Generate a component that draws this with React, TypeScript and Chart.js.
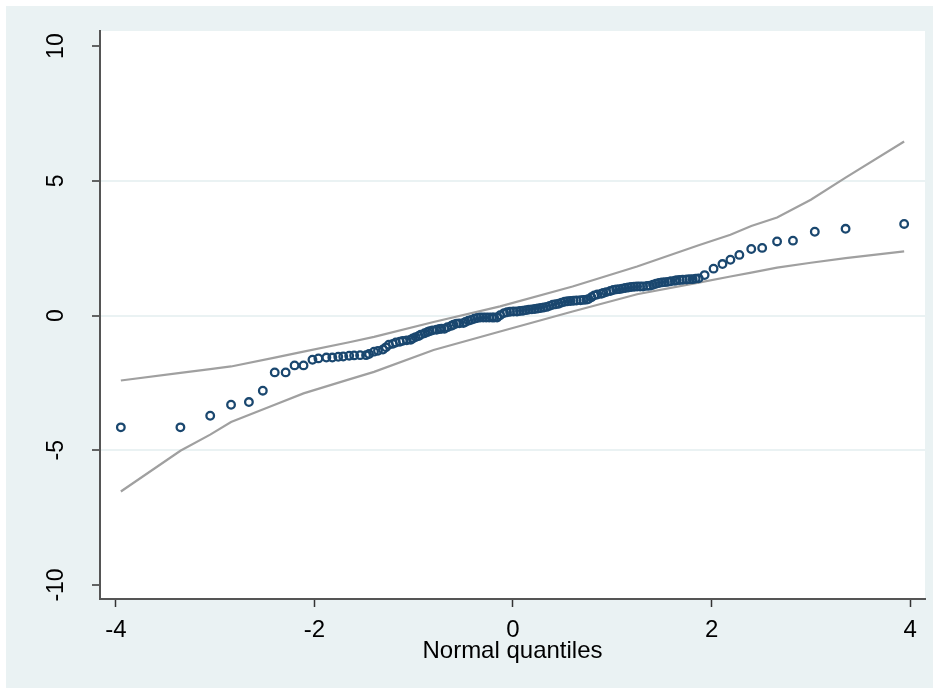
import React, { useEffect, useRef } from "react";
import { Chart, registerables } from "chart.js";

Chart.register(...registerables);

// Normal quantiles (x) and the sorted sample values (y)
const normalQuantiles = [
  -3.95, -3.35, -3.05, -2.84, -2.66, -2.52, -2.40, -2.29, -2.20, -2.11,
  -2.02, -1.96, -1.88, -1.82, -1.76, -1.71, -1.65, -1.60, -1.54, -1.48,
  -1.45, -1.40, -1.36, -1.31, -1.28, -1.25, -1.21, -1.18, -1.14, -1.11,
  -1.07, -1.03, -1.01, -0.98, -0.95, -0.93, -0.89, -0.86, -0.84, -0.81,
  -0.77, -0.74, -0.72, -0.69, -0.66, -0.62, -0.60, -0.57, -0.54, -0.50,
  -0.48, -0.45, -0.42, -0.39, -0.36, -0.33, -0.30, -0.27, -0.24, -0.21,
  -0.19, -0.16, -0.13, -0.09, -0.06, -0.03, 0.005, 0.04, 0.07, 0.10,
  0.13, 0.16, 0.19, 0.22, 0.25, 0.28, 0.31, 0.34, 0.37, 0.40,
  0.43, 0.46, 0.49, 0.52, 0.55, 0.58, 0.61, 0.64, 0.68, 0.71,
  0.74, 0.76, 0.79, 0.82, 0.85, 0.89, 0.91, 0.94, 0.98, 1.01,
  1.04, 1.07, 1.10, 1.13, 1.16, 1.19, 1.22, 1.25, 1.28, 1.31,
  1.35, 1.38, 1.41, 1.44, 1.47, 1.50, 1.53, 1.56, 1.59, 1.63,
  1.65, 1.68, 1.71, 1.75, 1.78, 1.81, 1.84, 1.87, 1.93, 2.02,
  2.11, 2.19, 2.28, 2.40, 2.51, 2.66, 2.82, 3.04, 3.35, 3.94,
];

const sampleValues = [
  -4.15, -4.15, -3.72, -3.31, -3.21, -2.79, -2.11, -2.11, -1.85, -1.85,
  -1.64, -1.59, -1.56, -1.56, -1.53, -1.52, -1.49, -1.48, -1.47, -1.47,
  -1.43, -1.34, -1.31, -1.26, -1.18, -1.08, -1.05, -1.00, -0.97, -0.94,
  -0.92, -0.90, -0.85, -0.80, -0.76, -0.71, -0.66, -0.61, -0.58, -0.55,
  -0.53, -0.50, -0.49, -0.49, -0.43, -0.38, -0.34, -0.30, -0.29, -0.28,
  -0.24, -0.19, -0.16, -0.12, -0.09, -0.07, -0.07, -0.07, -0.07, -0.07,
  -0.07, -0.07, 0.01, 0.09, 0.12, 0.14, 0.15, 0.15, 0.17, 0.18,
  0.20, 0.22, 0.23, 0.24, 0.26, 0.28, 0.30, 0.32, 0.36, 0.40,
  0.42, 0.44, 0.48, 0.51, 0.53, 0.54, 0.55, 0.56, 0.57, 0.58,
  0.59, 0.61, 0.68, 0.75, 0.78, 0.81, 0.84, 0.87, 0.91, 0.95,
  0.97, 0.98, 1.00, 1.02, 1.04, 1.06, 1.07, 1.08, 1.08, 1.08,
  1.10, 1.11, 1.14, 1.18, 1.21, 1.23, 1.24, 1.25, 1.27, 1.29,
  1.31, 1.32, 1.33, 1.34, 1.35, 1.35, 1.37, 1.38, 1.50, 1.74,
  1.91, 2.07, 2.25, 2.47, 2.51, 2.75, 2.78, 3.11, 3.22, 3.40,
];

// Confidence band
const bandX = [-3.95, -3.35, -3.05, -2.84, -2.40, -2.11, -1.65, -1.40, -0.80, -0.13, 0.60, 1.25, 1.87, 2.19, 2.40, 2.66, 3.00, 3.35, 3.94];
const bandUpper = [-2.41, -2.13, -1.99, -1.89, -1.56, -1.34, -0.99, -0.79, -0.24, 0.34, 1.08, 1.82, 2.61, 3.00, 3.32, 3.64, 4.30, 5.12, 6.46];
const bandLower = [-6.53, -5.02, -4.42, -3.95, -3.31, -2.89, -2.37, -2.09, -1.28, -0.59, 0.15, 0.79, 1.22, 1.45, 1.59, 1.78, 1.96, 2.13, 2.38];

const xTicks = [-4, -2, 0, 2, 4];
const yTicks = [-10, -5, 0, 5, 10];
const xTitle = "Normal quantiles";

const FONT_FAMILY = "'Liberation Sans', Arial, sans-serif";

export default function App() {
  const ref = useRef<HTMLCanvasElement>(null);

  useEffect(() => {
    const canvas = ref.current;
    if (!canvas) return;

    const stataPlugin = {
      id: "stataLook",
      beforeDraw(chart: any) {
        const { ctx, chartArea } = chart;
        ctx.save();
        ctx.fillStyle = "#ffffff";
        ctx.fillRect(0, 0, chart.width, chart.height);
        ctx.fillStyle = "#eaf2f3";
        ctx.fillRect(6, 6, 927, 682);
        ctx.fillStyle = "#ffffff";
        ctx.fillRect(chartArea.left, chartArea.top, chartArea.right - chartArea.left, chartArea.bottom - chartArea.top);
        ctx.restore();
      },
      afterDraw(chart: any) {
        const { ctx, chartArea } = chart;
        const xs = chart.scales.x;
        const ys = chart.scales.y;
        ctx.save();
        ctx.fillStyle = "#000000";
        // y tick labels (rotated)
        ctx.font = `23px ${FONT_FAMILY}`;
        yTicks.forEach((v) => {
          const py = ys.getPixelForValue(v);
          ctx.save();
          ctx.translate(63, py);
          ctx.rotate(-Math.PI / 2);
          ctx.textAlign = "center";
          ctx.textBaseline = "alphabetic";
          ctx.fillText(String(v), 0, 0);
          ctx.restore();
        });
        // x tick labels
        ctx.font = `24px ${FONT_FAMILY}`;
        ctx.textAlign = "center";
        ctx.textBaseline = "alphabetic";
        xTicks.forEach((v) => {
          const px = xs.getPixelForValue(v);
          ctx.fillText(String(v), px, 637);
        });
        // x title
        ctx.fillText(xTitle, (chartArea.left + chartArea.right) / 2, 658);
        ctx.restore();
      },
    };

    const chart = new Chart(canvas, {
      type: "scatter",
      data: {
        datasets: [
          {
            label: "values",
            data: normalQuantiles.map((x, i) => ({ x, y: sampleValues[i] })),
            showLine: false,
            pointStyle: "circle",
            pointRadius: 3.8,
            pointBorderWidth: 2.3,
            pointBorderColor: "#1a476f",
            pointBackgroundColor: "rgba(0,0,0,0)",
            order: 0,
          },
          {
            label: "upper",
            data: bandX.map((x, i) => ({ x, y: bandUpper[i] })),
            showLine: true,
            borderColor: "#a0a0a0",
            borderWidth: 2.2,
            pointRadius: 0,
            tension: 0,
            order: 1,
          },
          {
            label: "lower",
            data: bandX.map((x, i) => ({ x, y: bandLower[i] })),
            showLine: true,
            borderColor: "#a0a0a0",
            borderWidth: 2.2,
            pointRadius: 0,
            tension: 0,
            order: 2,
          },
        ],
      },
      options: {
        responsive: false,
        animation: false,
        devicePixelRatio: 1,
        events: [],
        layout: { padding: { top: 31, right: 14, left: 0, bottom: 0 } },
        plugins: { legend: { display: false }, tooltip: { enabled: false } },
        scales: {
          x: {
            type: "linear",
            min: -4.16,
            max: 4.15,
            afterBuildTicks: (s: any) => {
              s.ticks = xTicks.map((v) => ({ value: v }));
            },
            afterFit: (s: any) => {
              s.height = 92;
            },
            ticks: { display: false },
            grid: {
              drawOnChartArea: false,
              drawTicks: true,
              tickLength: 8,
              tickColor: "#333333",
              tickWidth: 1.5,
            },
            border: { display: true, color: "#555555", width: 2 },
          },
          y: {
            type: "linear",
            min: -10.52,
            max: 10.56,
            afterBuildTicks: (s: any) => {
              s.ticks = yTicks.map((v) => ({ value: v }));
            },
            afterFit: (s: any) => {
              s.width = 100;
            },
            ticks: { display: false },
            grid: {
              drawTicks: true,
              tickLength: 8,
              tickColor: "#333333",
              tickWidth: 1.5,
              lineWidth: 2,
              color: (c: any) =>
                c.tick && Math.abs(c.tick.value) < 10 ? "#eaf2f3" : "rgba(0,0,0,0)",
            },
            border: { display: true, color: "#555555", width: 2 },
          },
        },
      },
      plugins: [stataPlugin],
    } as any);

    return () => chart.destroy();
  }, []);

  return (
    <div style={{ position: "absolute", left: 0, top: 0, width: 939, height: 691 }}>
      <canvas ref={ref} width={939} height={691} style={{ display: "block", width: 939, height: 691 }} />
    </div>
  );
}
